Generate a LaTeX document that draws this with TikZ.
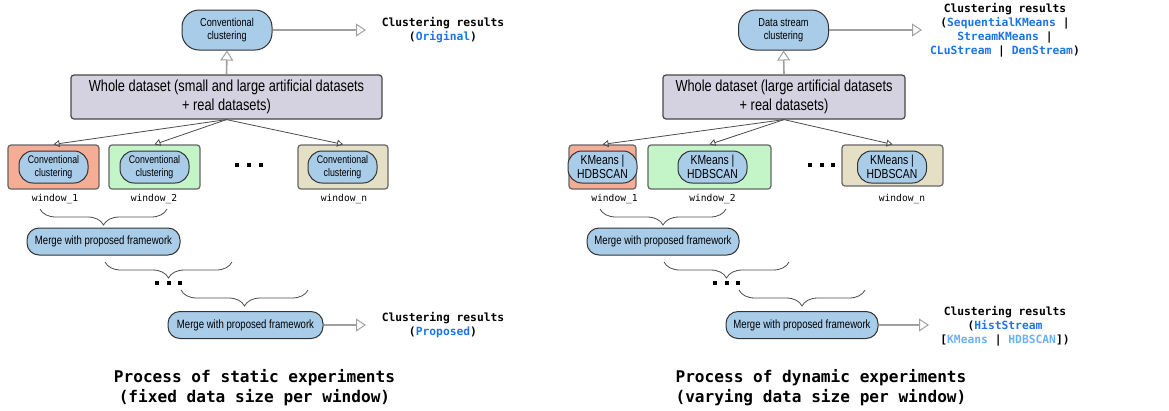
\documentclass[tikz,border=0pt]{standalone}
\usepackage{fontspec}
\setmainfont{Liberation Sans}
\newfontfamily\narrowsans{Liberation Sans}[FakeStretch=0.8]
\newfontfamily\monofont{DejaVu Sans Mono}
\usetikzlibrary{arrows.meta,decorations.pathreplacing}

\definecolor{pillfill}{HTML}{A9CCE9}
\definecolor{pillline}{HTML}{333333}
\definecolor{datafill}{HTML}{D4D1E1}
\definecolor{salmon}{HTML}{F5AD96}
\definecolor{mint}{HTML}{C4F5C9}
\definecolor{beige}{HTML}{E5DFC6}
\definecolor{framegray}{HTML}{666666}
\definecolor{feedgray}{HTML}{A0A0A0}
\definecolor{algoblue}{HTML}{1C74E6}
\definecolor{lightblue}{HTML}{6EB0F5}

\tikzset{
  toppill/.style={draw=pillline, fill=pillfill, line width=1pt, rounded corners=17pt,
    inner sep=0pt, minimum width=90pt, minimum height=40pt, align=center,
    font=\narrowsans\fontsize{11.5}{13}\selectfont},
  winpill/.style={draw=pillline, fill=pillfill, line width=1pt, rounded corners=14pt,
    inner sep=0pt, minimum width=69pt, minimum height=32pt, align=center,
    font=\narrowsans\fontsize{11}{13}\selectfont},
  algopill/.style={winpill, font=\narrowsans\fontsize{13}{13.5}\selectfont},
  mergepill/.style={draw=pillline, fill=pillfill, line width=1pt, rounded corners=12pt,
    inner sep=0pt, minimum height=27pt, align=center,
    font=\narrowsans\fontsize{12}{13}\selectfont},
  databox/.style={draw=pillline!90, fill=datafill, line width=1.2pt, rounded corners=3pt,
    inner sep=0pt, minimum height=44pt, align=center,
    font=\narrowsans\fontsize{16}{19}\selectfont},
  winbox/.style={draw=framegray, line width=1.2pt, rounded corners=3pt,
    inner sep=0pt, minimum height=44pt},
  winlabel/.style={font=\monofont\fontsize{9.6}{11}\selectfont, inner sep=0pt},
  result/.style={align=center, inner sep=0pt,
    font=\monofont\bfseries\fontsize{11.3}{14}\selectfont},
  heading/.style={align=center, inner sep=0pt,
    font=\monofont\bfseries\fontsize{16.1}{20}\selectfont},
  feed/.style={draw=feedgray, line width=1.6pt,
    -{Triangle[open, length=10pt, width=13pt, line width=1pt]}},
  split/.style={draw=black!70, line width=0.8pt,
    -{Triangle[open, length=6pt, width=7pt, line width=0.8pt]}},
  gather/.style={draw=black!70, line width=0.8pt,
    decorate, decoration={brace, mirror, amplitude=16pt}},
  dot/.style={fill=black, inner sep=0pt, minimum size=4pt},
}

\newcommand{\ab}[1]{\textcolor{algoblue}{#1}}
\newcommand{\lb}[1]{\textcolor{lightblue}{#1}}

\begin{document}
\begin{tikzpicture}[x=1pt, y=-1pt]
\useasboundingbox (0,0) rectangle (1169,410);

% ---------- static experiments ----------
\node[toppill] (convL) at (227,30) {Conventional\\clustering};
\node[databox, minimum width=311pt] (wholeL) at (226.5,97)
  {Whole dataset (small and large artificial datasets\\+ real datasets)};
\node[result] (resL1) at (443,30) {Clustering results\\(\ab{Original})};

\node[winbox, fill=salmon, minimum width=91pt] (wL1) at (53.5,167) {};
\node[winpill] (pL1) at (53.5,167) {Conventional\\clustering};
\node[winbox, fill=mint, minimum width=91pt] (wL2) at (154.5,167) {};
\node[winpill] (pL2) at (154.5,167) {Conventional\\clustering};
\node[winbox, fill=beige, minimum width=90pt] (wLn) at (343,167) {};
\node[winpill] (pLn) at (342.5,167) {Conventional\\clustering};

\node[winlabel] (lL1) at (55,199) {window\_1};
\node[winlabel] (lL2) at (154,199) {window\_2};
\node[winlabel] (lLn) at (344,199) {window\_n};

\node[dot] (dL1) at (237,165) {};
\node[dot] (dL2) at (249,165) {};
\node[dot] (dL3) at (261,165) {};

\node[mergepill, minimum width=153pt] (mL1) at (103.5,241.5) {Merge with proposed framework};
\node[dot] (dL4) at (157,283) {};
\node[dot] (dL5) at (168.5,283) {};
\node[dot] (dL6) at (180,283) {};
\node[mergepill, minimum width=155pt] (mL2) at (245.5,325) {Merge with proposed framework};
\node[result] (resL2) at (443,325) {Clustering results\\(\ab{Proposed})};

\node[heading] (headL) at (254.5,388) {Process of static experiments\\(fixed data size per window)};

\draw[feed] (wholeL.north) -- (convL.south);
\draw[feed] (convL.east) -- (366,30) coordinate (tipL1);
\draw[feed] (mL2.east) -- (366,325) coordinate (tipL2);
\draw[split] (wholeL.south) -- (wL1.north);
\draw[split] (wholeL.south) -- (wL2.north);
\draw[split] (wholeL.south) -- (wLn.north);

\coordinate (bL1a) at (40,209);  \coordinate (bL1b) at (167,209);
\coordinate (bL2a) at (105,262); \coordinate (bL2b) at (232,262);
\coordinate (bL3a) at (181,290); \coordinate (bL3b) at (308,290);
\draw[gather] (bL1a) -- (bL1b);
\draw[gather] (bL2a) -- (bL2b);
\draw[gather] (bL3a) -- (bL3b);

% ---------- dynamic experiments ----------
\node[toppill] (convR) at (783.5,30) {Data stream\\clustering};
\node[databox, minimum width=242pt] (wholeR) at (784,97)
  {Whole dataset (large artificial datasets\\+ real datasets)};
\node[result] (resR1) at (1005,30)
  {Clustering results\\(\ab{SequentialKMeans} |\\\ab{StreamKMeans} |\\\ab{CLuStream} | \ab{DenStream})};

\node[winbox, fill=salmon, minimum width=67pt] (wR1) at (602.5,167) {};
\node[algopill] (pR1) at (602.5,167) {KMeans |\\HDBSCAN};
\node[winbox, fill=mint, minimum width=123pt] (wR2) at (709.5,167) {};
\node[algopill] (pR2) at (712.5,167) {KMeans |\\HDBSCAN};
\node[winbox, fill=beige, minimum width=101pt, minimum height=41pt] (wRn) at (892.5,165.5) {};
\node[algopill] (pRn) at (892,167) {KMeans |\\HDBSCAN};

\node[winlabel] (lR1) at (614.5,199) {window\_1};
\node[winlabel] (lR2) at (712.5,199) {window\_2};
\node[winlabel] (lRn) at (902,199) {window\_n};

\node[dot] (dR1) at (810,165) {};
\node[dot] (dR2) at (821.5,165) {};
\node[dot] (dR3) at (833,165) {};

\node[mergepill, minimum width=152pt] (mR1) at (663,241.5) {Merge with proposed framework};
\node[dot] (dR4) at (715,283) {};
\node[dot] (dR5) at (726.5,283) {};
\node[dot] (dR6) at (738,283) {};
\node[mergepill, minimum width=152pt] (mR2) at (802,325) {Merge with proposed framework};
\node[result] (resR2) at (1005,326)
  {Clustering results\\(\ab{HistStream}\\{}[\lb{KMeans} | \lb{HDBSCAN}])};

\node[heading] (headR) at (821,388) {Process of dynamic experiments\\(varying data size per window)};

\draw[feed] (wholeR.north) -- (convR.south);
\draw[feed] (convR.east) -- (922,30) coordinate (tipR1);
\draw[feed] (mR2.east) -- (929,325) coordinate (tipR2);
\draw[split] (wholeR.south) -- (wR1.north);
\draw[split] (wholeR.south) -- (wR2.north);
\draw[split] (wholeR.south) -- (wRn.north);

\coordinate (bR1a) at (600,209); \coordinate (bR1b) at (726,209);
\coordinate (bR2a) at (664,262); \coordinate (bR2b) at (789,262);
\coordinate (bR3a) at (739,290); \coordinate (bR3b) at (865,290);
\draw[gather] (bR1a) -- (bR1b);
\draw[gather] (bR2a) -- (bR2b);
\draw[gather] (bR3a) -- (bR3b);
\end{tikzpicture}
\end{document}
